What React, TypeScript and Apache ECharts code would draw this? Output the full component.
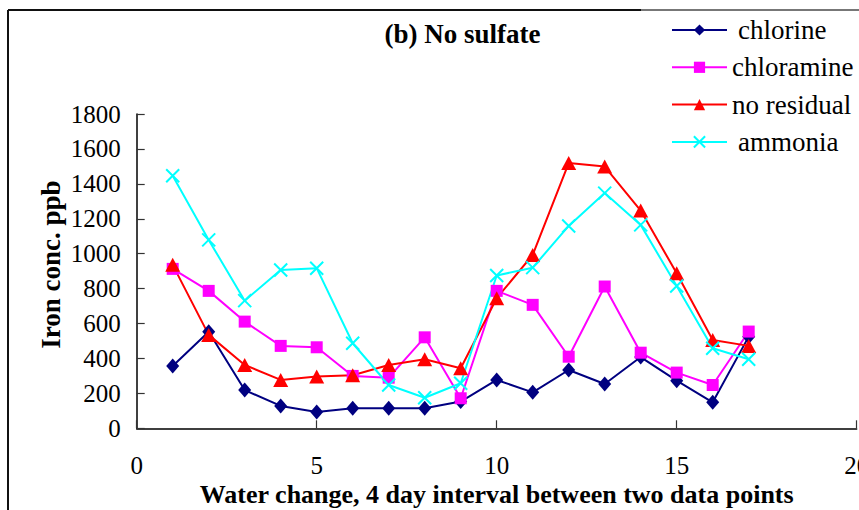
import React, { useEffect, useRef } from "react";
import * as echarts from "echarts";

// Water change number (4-day interval between points)
const waterChange = [1, 2, 3, 4, 5, 6, 7, 8, 9, 10, 11, 12, 13, 14, 15, 16, 17];

// Iron concentration, ppb
const chlorine = [357, 553, 219, 128, 93, 115, 115, 115, 153, 277, 206, 334, 254, 408, 273, 149, 525];
const chloramine = [913, 787, 611, 472, 464, 300, 290, 521, 172, 787, 707, 410, 812, 433, 319, 248, 554];
const noResidual = [936, 535, 363, 277, 296, 304, 363, 395, 344, 745, 993, 1519, 1499, 1247, 888, 506, 472];
const ammonia = [1446, 1079, 731, 907, 917, 487, 248, 175, 258, 875, 920, 1159, 1347, 1165, 815, 458, 395];

const FONT = "Liberation Serif";

const pairs = (ys: number[]) => waterChange.map((x, i) => [x, ys[i]]);

export default function App() {
  const ref = useRef<HTMLDivElement>(null);

  useEffect(() => {
    if (!ref.current) return;
    const chart = echarts.init(ref.current, undefined, { renderer: "svg" });

    const mk = (
      name: string,
      data: number[],
      color: string,
      symbol: string,
      symbolSize: number | number[],
      extra: any = {}
    ) => ({
      name,
      type: "line",
      data: pairs(data),
      symbol,
      symbolSize,
      showSymbol: true,
      lineStyle: { color, width: 2 },
      itemStyle: { color, ...extra },
      emphasis: { disabled: true },
    });

    chart.setOption({
      animation: false,
      backgroundColor: "#ffffff",
      grid: {
        left: 136.7,
        right: 2.3,
        top: 114,
        bottom: 81.7,
        containLabel: false,
        outerBoundsMode: "none",
      },
      xAxis: {
        type: "value",
        min: 0,
        max: 20,
        interval: 5,
        name: "Water change, 4 day interval between two data points",
        nameLocation: "middle",
        nameGap: 55.2,
        nameMoveOverlap: false,
        nameTextStyle: {
          fontFamily: FONT,
          fontSize: 26,
          lineHeight: 22,
          fontWeight: "bold",
          color: "#000",
        },
        axisLine: { show: true, lineStyle: { color: "#000", width: 1.5 } },
        axisTick: { show: true, inside: true, length: 8, lineStyle: { color: "#333", width: 1.2 } },
        axisLabel: {
          fontFamily: FONT,
          fontSize: 25,
          lineHeight: 20,
          color: "#000",
          margin: 27.5,
          formatter: (v: number) => String(v),
        },
        splitLine: { show: false },
      },
      yAxis: {
        type: "value",
        min: 0,
        max: 1800,
        interval: 200,
        name: "Iron conc. ppb",
        nameLocation: "middle",
        nameGap: 72,
        nameMoveOverlap: false,
        nameTextStyle: {
          fontFamily: FONT,
          fontSize: 27,
          fontWeight: "bold",
          color: "#000",
          padding: [0, 0, 0, 13],
        },
        axisLine: { show: true, lineStyle: { color: "#000", width: 1.5 } },
        axisTick: { show: true, inside: true, length: 8, lineStyle: { color: "#333", width: 1.2 } },
        axisLabel: {
          fontFamily: FONT,
          fontSize: 25,
          color: "#000",
          margin: 16,
          formatter: (v: number) => String(v),
        },
        splitLine: { show: false },
      },
      legend: {
        orient: "vertical",
        left: 671,
        top: 16.5,
        padding: 0,
        itemWidth: 55,
        itemHeight: 14,
        itemGap: 10.3,
        textStyle: {
          fontFamily: FONT,
          fontSize: 27,
          color: "#000",
          rich: { p: { fontFamily: FONT, fontSize: 27, color: "#000", padding: [0, 0, 0, 6] } },
        },
        formatter: (name: string) =>
          name === "chlorine" || name === "ammonia" ? "{p|" + name + "}" : name,
        data: ["chlorine", "chloramine", "no residual", "ammonia"],
      },
      graphic: [
        {
          type: "line",
          shape: { x1: 8, y1: 10, x2: 641, y2: 10 },
          style: { stroke: "#111", lineWidth: 2 },
        },
        {
          type: "line",
          shape: { x1: 641, y1: 10, x2: 859, y2: 10 },
          style: { stroke: "#777", lineWidth: 2 },
        },
        {
          type: "line",
          shape: { x1: 8, y1: 10, x2: 8, y2: 510 },
          style: { stroke: "#111", lineWidth: 2 },
        },
        {
          type: "text",
          x: 462.5,
          y: 34,
          style: {
            text: "(b) No sulfate",
            fontFamily: FONT,
            fontSize: 27,
            fontWeight: "bold",
            fill: "#000",
            textAlign: "center",
            textVerticalAlign: "middle",
          },
        },
      ],
      series: [
        mk("chlorine", chlorine, "#000080", "diamond", [13, 15]),
        mk("chloramine", chloramine, "#FF00FF", "rect", 12),
        mk("no residual", noResidual, "#FF0000", "triangle", [15, 14]),
        mk("ammonia", ammonia, "#00FFFF", "path://M0,0L10,10M10,0L0,10", 13, {
          borderColor: "#00FFFF",
          borderWidth: 2,
        }),
      ],
    });

    return () => chart.dispose();
  }, []);

  return (
    <div
      ref={ref}
      style={{ position: "absolute", left: 0, top: 0, width: 859, height: 510 }}
    />
  );
}
